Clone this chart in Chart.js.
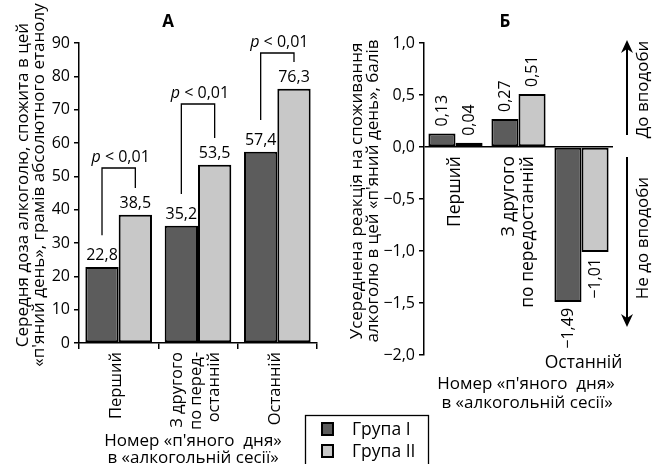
<!DOCTYPE html>
<html>
<head>
<meta charset="utf-8">
<script src="https://cdn.jsdelivr.net/npm/chart.js@4.4.1/dist/chart.umd.min.js"></script>
<style>
  body { margin: 0; background: #fff; }
  #wrap { position: relative; width: 654px; height: 464px; overflow: hidden; }
  #wrap canvas { position: absolute; left: 0; top: 0; }
</style>
</head>
<body>
<div id="wrap">
  <canvas id="chartA" width="654" height="464"></canvas>
  <canvas id="chartB" width="654" height="464"></canvas>
</div>
<script>
const groupLabels = ['Група I', 'Група II'];

// panel A: dose per drinking day
const doseCategories = [['Перший'], ['З другого', 'по перед-', 'останній'], ['Останній']];
const doseGroup1 = [22.8, 35.2, 57.4];
const doseGroup2 = [38.5, 53.5, 76.3];
const doseBracketTop = [52.5, 71.7, 87];
const dosePText = ['< 0,01', '< 0,01', '< 0,01'];
const doseMin = 0, doseMax = 90, doseStep = 10;

// panel B: averaged reaction score
const reactCategories = [['Перший'], ['З другого', 'по передостанній'], ['Останній']];
const reactGroup1 = [0.13, 0.27, -1.49];
const reactGroup2 = [0.04, 0.51, -1.01];
const reactMin = -2, reactMax = 1, reactStep = 0.5;

const darkFill = '#5c5c5c';
const lightFill = '#c8c8c8';
const FONT = '"Open Sans", sans-serif';
const NUM = '16px ' + FONT;       // numbers
const WORD = '17.5px ' + FONT;    // B category labels, legend
const WORD_A = '16.5px ' + FONT;  // A category labels
const TITLE = '17px ' + FONT;     // axis titles

Chart.defaults.font.family = FONT;
Chart.defaults.font.size = 16;
Chart.defaults.color = '#000';

function fmt(v, digits) {
    return v.toFixed(digits).replace('.', ',').replace('-', '\u2212');
}

function rotText(ctx, text, x, y, align, baseline) {
    ctx.save();
    ctx.translate(x, y);
    ctx.rotate(-Math.PI / 2);
    ctx.textAlign = align;
    ctx.textBaseline = baseline || 'middle';
    ctx.fillText(text, 0, 0);
    ctx.restore();
}

function barDatasets(a, b) {
    return [a, b].map((data, i) => ({
        label: groupLabels[i],
        data: data,
        backgroundColor: i === 0 ? darkFill : lightFill,
        borderColor: '#000',
        borderWidth: 2,
        borderSkipped: false
    }));
}

const doseExtras = {
    id: 'doseExtras',
    afterDatasetsDraw(chart) {
        const ctx = chart.ctx;
        const x = chart.scales.x, y = chart.scales.y;
        const area = chart.chartArea;
        const m0 = chart.getDatasetMeta(0), m1 = chart.getDatasetMeta(1);
        ctx.save();
        ctx.fillStyle = '#000';
        ctx.font = NUM;
        ctx.textAlign = 'center';
        ctx.textBaseline = 'alphabetic';

        // value labels
        chart.data.datasets.forEach((ds, di) => {
            chart.getDatasetMeta(di).data.forEach((bar, i) => {
                ctx.fillText(fmt(ds.data[i], 1), bar.x, bar.y - 7);
            });
        });

        // significance brackets
        ctx.strokeStyle = '#000';
        ctx.lineWidth = 1.3;
        doseBracketTop.forEach((top, i) => {
            const xl = m0.data[i].x, xr = m1.data[i].x;
            const yt = y.getPixelForValue(top);
            ctx.beginPath();
            ctx.moveTo(xl, y.getPixelForValue(doseGroup1[i] + 9.5));
            ctx.lineTo(xl, yt);
            ctx.lineTo(xr, yt);
            ctx.lineTo(xr, y.getPixelForValue(doseGroup2[i] + 8));
            ctx.stroke();

            const cx = x.getPixelForValue(i) + 2;
            ctx.font = 'italic ' + NUM;
            const wp = ctx.measureText('p').width;
            ctx.font = NUM;
            const wr = ctx.measureText(' ' + dosePText[i]).width;
            const sx = cx - (wp + wr) / 2;
            ctx.textAlign = 'left';
            ctx.font = 'italic ' + NUM;
            ctx.fillText('p', sx, yt - 6);
            ctx.font = NUM;
            ctx.fillText(' ' + dosePText[i], sx + wp, yt - 6);
            ctx.textAlign = 'center';
        });

        // category labels, rotated
        ctx.font = WORD_A;
        chart.data.labels.forEach((lines, i) => {
            const cx = x.getPixelForValue(i);
            lines.forEach((t, k) => {
                const off = (k - (lines.length - 1) / 2) * 18.5;
                rotText(ctx, t, cx + off - 2, area.bottom + 9, 'right');
            });
        });

        // panel title
        ctx.font = 'bold 17px ' + FONT;
        ctx.fillText('А', 168, 27);

        // axis titles
        ctx.font = TITLE;
        const yc = (area.top + area.bottom) / 2 - 8;
        rotText(ctx, 'Середня доза алкоголю, спожита в цей', 28, yc, 'center', 'alphabetic');
        rotText(ctx, '«п\'яний день», грамів абсолютного етанолу', 44, yc, 'center', 'alphabetic');
        const xc = (area.left + area.right) / 2 - 5;
        ctx.fillText('Номер «п\'яного  дня»', xc, 446);
        ctx.fillText('в «алкогольній сесії»', xc, 463);

        // legend
        ctx.lineWidth = 1.3;
        ctx.strokeRect(305.5, 415.5, 123, 60);
        ctx.font = WORD;
        chart.data.datasets.forEach((ds, di) => {
            const ly = 423 + di * 22;
            ctx.fillStyle = ds.backgroundColor;
            ctx.fillRect(322, ly, 11, 12);
            ctx.lineWidth = 2;
            ctx.strokeRect(322, ly, 11, 12);
            ctx.fillStyle = '#000';
            ctx.textAlign = 'left';
            ctx.fillText(ds.label, 352, ly + 12);
        });
        ctx.restore();
    }
};

const reactExtras = {
    id: 'reactExtras',
    afterDatasetsDraw(chart) {
        const ctx = chart.ctx;
        const x = chart.scales.x, y = chart.scales.y;
        const area = chart.chartArea;
        const zero = y.getPixelForValue(0);
        ctx.save();
        ctx.fillStyle = '#000';
        ctx.font = NUM;

        // value labels, rotated
        chart.data.datasets.forEach((ds, di) => {
            chart.getDatasetMeta(di).data.forEach((bar, i) => {
                const v = ds.data[i];
                if (v >= 0) rotText(ctx, fmt(v, 2), bar.x, bar.y - 7, 'left');
                else rotText(ctx, fmt(v, 2), bar.x, bar.y + 6, 'right');
            });
        });

        // category labels
        ctx.font = WORD;
        chart.data.labels.forEach((lines, i) => {
            const cx = x.getPixelForValue(i);
            const hasNeg = chart.data.datasets.some(ds => ds.data[i] < 0);
            if (hasNeg) {
                ctx.textAlign = 'center';
                ctx.textBaseline = 'alphabetic';
                ctx.fillText(lines.join(' '), cx + 2, area.bottom + 13);
            } else {
                lines.forEach((t, k) => {
                    const off = (k - (lines.length - 1) / 2) * 19;
                    rotText(ctx, t, cx + off, zero + 9, 'right');
                });
            }
        });

        // panel title
        ctx.textAlign = 'center';
        ctx.textBaseline = 'alphabetic';
        ctx.font = 'bold 17px ' + FONT;
        ctx.fillText('Б', 505, 27);

        // axis titles
        ctx.font = TITLE;
        const yc = (area.top + area.bottom) / 2 - 8;
        rotText(ctx, 'Усереднена реакція на споживання', 362, yc, 'center', 'alphabetic');
        rotText(ctx, 'алкоголю в цей «п\'яний день», балів', 378, yc, 'center', 'alphabetic');
        ctx.fillText('Номер «п\'яного  дня»', 526, 389);
        ctx.fillText('в «алкогольній сесії»', 527, 408);

        // like / dislike arrows
        const ax = area.right + 14;
        ctx.strokeStyle = '#000';
        ctx.lineWidth = 2;
        const upTop = area.top - 3, upBot = zero - 12;
        const dnTop = zero + 10, dnBot = y.getPixelForValue(-1.73);
        ctx.beginPath();
        ctx.moveTo(ax, upBot); ctx.lineTo(ax, upTop + 6);
        ctx.moveTo(ax, dnTop); ctx.lineTo(ax, dnBot - 6);
        ctx.stroke();
        ctx.beginPath();
        ctx.moveTo(ax, upTop); ctx.lineTo(ax + 6, upTop + 13); ctx.lineTo(ax, upTop + 9); ctx.lineTo(ax - 6, upTop + 13);
        ctx.closePath();
        ctx.moveTo(ax, dnBot); ctx.lineTo(ax + 6, dnBot - 13); ctx.lineTo(ax, dnBot - 9); ctx.lineTo(ax - 6, dnBot - 13);
        ctx.closePath();
        ctx.fill();
        ctx.font = TITLE;
        rotText(ctx, 'До вподоби', ax + 16, (upTop + upBot) / 2 + 2, 'center');
        rotText(ctx, 'Не до вподоби', ax + 16, 238, 'center');
        ctx.restore();
    }
};

new Chart(document.getElementById('chartA'), {
    type: 'bar',
    data: { labels: doseCategories, datasets: barDatasets(doseGroup1, doseGroup2) },
    options: {
        responsive: false,
        animation: false,
        layout: { padding: { left: 0, top: 43, right: 337, bottom: 111 } },
        datasets: { bar: { categoryPercentage: 0.84, barPercentage: 1 } },
        plugins: { legend: { display: false }, tooltip: { enabled: false } },
        scales: {
            x: {
                grid: { drawOnChartArea: false, offset: true, tickLength: 6, color: '#000', lineWidth: 1.5 },
                border: { color: '#000', width: 1.5 },
                ticks: { display: false },
                afterFit: s => { s.height = 10; }
            },
            y: {
                min: doseMin, max: doseMax,
                ticks: { stepSize: doseStep, padding: 4, color: '#000' },
                grid: { drawOnChartArea: false, tickLength: 5, color: '#000', lineWidth: 1.5 },
                border: { color: '#000', width: 1.5 },
                afterFit: s => { s.width = 79; }
            }
        }
    },
    plugins: [doseExtras]
});

new Chart(document.getElementById('chartB'), {
    type: 'bar',
    data: { labels: reactCategories, datasets: barDatasets(reactGroup1, reactGroup2) },
    options: {
        responsive: false,
        animation: false,
        layout: { padding: { left: 330, top: 43, right: 41, bottom: 109 } },
        datasets: { bar: { categoryPercentage: 0.86, barPercentage: 1 } },
        plugins: { legend: { display: false }, tooltip: { enabled: false } },
        scales: {
            x: { display: false },
            y: {
                min: reactMin, max: reactMax,
                ticks: { stepSize: reactStep, padding: 4, color: '#000', callback: v => fmt(v, 1) },
                grid: {
                    drawOnChartArea: true, tickLength: 5, lineWidth: 1.5, tickColor: '#000',
                    color: c => (c.tick && c.tick.value === 0) ? '#000' : 'rgba(0,0,0,0)'
                },
                border: { color: '#000', width: 1.5 },
                afterFit: s => { s.width = 94; }
            }
        }
    },
    plugins: [reactExtras]
});
</script>
</body>
</html>
